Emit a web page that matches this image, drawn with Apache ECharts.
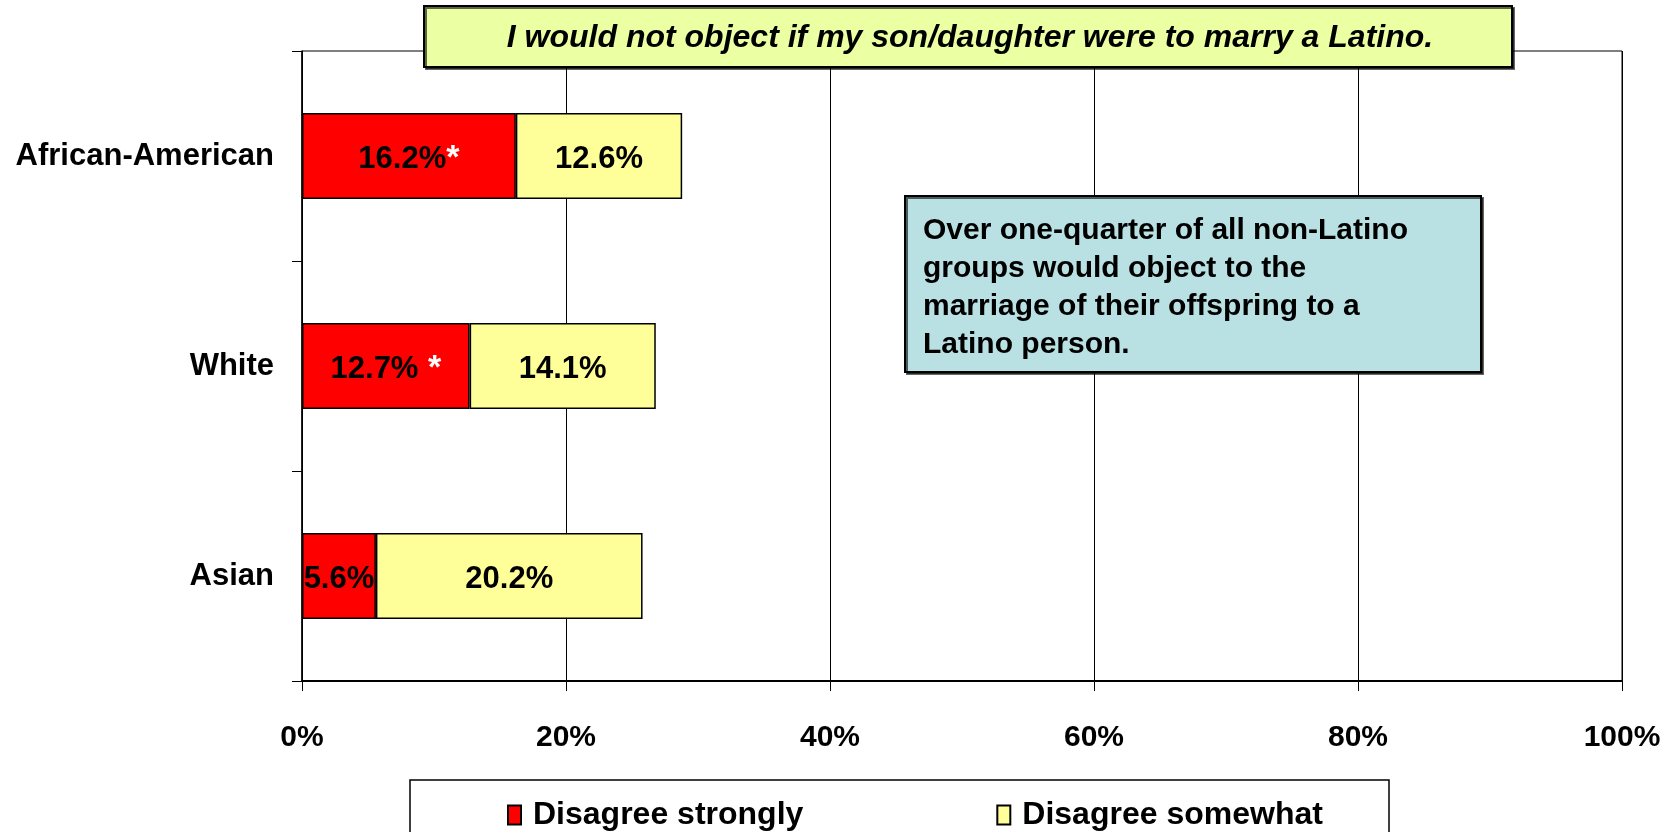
<!DOCTYPE html>
<html>
<head>
<meta charset="utf-8">
<style>
  html, body { margin: 0; padding: 0; background: #fff; }
  #main { width: 1679px; height: 832px; }
</style>
<script src="https://cdn.jsdelivr.net/npm/echarts@6/dist/echarts.min.js"></script>
</head>
<body>
<div id="main"></div>
<script>
// groups, top to bottom
var groups = ['African-American', 'White', 'Asian'];
var strongly = [16.2, 12.7, 5.6];
var somewhat = [12.6, 14.1, 20.2];
// marks drawn in white after the "strongly" labels
var starMarks = ['*', ' *', ''];
var seriesNames = ['Disagree strongly', 'Disagree somewhat'];
var xTicks = [0, 20, 40, 60, 80, 100];

var titleText = 'I would not object if my son/daughter were to marry a Latino.';
var noteText = 'Over one-quarter of all non-Latino\ngroups would object to the\nmarriage of their offspring to a\nLatino person.';

var font = 'Liberation Sans, Arial, sans-serif';

var myChart = echarts.init(document.getElementById('main'));

myChart.setOption({
  animation: false,
  textStyle: { fontFamily: font },
  grid: {
    left: 302, right: 57, top: 51, bottom: 151,
    show: true, borderColor: '#000', borderWidth: 1
  },
  legend: {
    data: seriesNames,
    icon: 'rect',
    left: 502, top: 794,
    itemWidth: 13, itemHeight: 19, itemGap: 193,
    selectedMode: false,
    textStyle: { fontSize: 32, fontWeight: 'bold', color: '#000', fontFamily: font, padding: [0, 0, 0, 7] }
  },
  xAxis: {
    type: 'value',
    min: xTicks[0], max: xTicks[xTicks.length - 1], interval: 20,
    axisLine: { show: true, lineStyle: { color: '#000', width: 2 } },
    axisTick: { show: true, length: 10, lineStyle: { color: '#000' } },
    splitLine: { show: true, lineStyle: { color: '#000', width: 1 } },
    axisLabel: {
      margin: 42, fontSize: 30, fontWeight: 'bold', color: '#000',
      formatter: '{value}%'
    }
  },
  yAxis: {
    type: 'category',
    data: groups,
    inverse: true,
    axisLine: { show: true, lineStyle: { color: '#000', width: 1.5 } },
    axisTick: { show: true, length: 10, lineStyle: { color: '#000' } },
    axisLabel: { margin: 28, fontSize: 31, fontWeight: 'bold', color: '#000', padding: [6, 0, 0, 0] }
  },
  series: [{
    name: seriesNames[0],
    type: 'bar',
    stack: 'all',
    barCategoryGap: '59%',
    data: strongly,
    itemStyle: { color: '#FF0000', borderColor: '#000', borderWidth: 1.5 },
    label: {
      show: true, position: 'inside', offset: [0, 3],
      formatter: function(p) {
        var s = starMarks[p.dataIndex];
        return '{v|' + p.value.toFixed(1) + '%}' + (s ? '{s|' + s + '}' : '');
      },
      rich: {
        v: { fontSize: 31, fontWeight: 'bold', color: '#000', fontFamily: font },
        s: { fontSize: 34, fontWeight: 'bold', color: '#fff', fontFamily: font }
      }
    }
  }, {
    name: seriesNames[1],
    type: 'bar',
    stack: 'all',
    data: somewhat,
    itemStyle: { color: '#FFFF99', borderColor: '#000', borderWidth: 1.5 },
    label: {
      show: true, position: 'inside', offset: [0, 3],
      fontSize: 31, fontWeight: 'bold', color: '#000',
      formatter: function(p) { return p.value.toFixed(1) + '%'; }
    }
  }],
  graphic: [{
    type: 'rect', z: 10,
    shape: { x: 424, y: 6, width: 1088, height: 61 },
    style: { fill: '#EBFFA3', stroke: '#000', lineWidth: 2,
      shadowColor: 'rgba(0,0,0,0.6)', shadowOffsetX: 2, shadowOffsetY: 2 }
  }, {
    type: 'text', z: 11,
    x: 970, y: 38,
    style: { text: titleText, font: 'italic bold 32px ' + font, fill: '#000',
      align: 'center', verticalAlign: 'middle' }
  }, {
    type: 'rect', z: 10,
    shape: { x: 905, y: 196, width: 576, height: 176 },
    style: { fill: '#B9E0E3', stroke: '#000', lineWidth: 2,
      shadowColor: 'rgba(0,0,0,0.6)', shadowOffsetX: 2, shadowOffsetY: 2 }
  }, {
    type: 'text', z: 11,
    x: 923, y: 212,
    style: { text: noteText, font: 'bold 30px ' + font, fill: '#000', lineHeight: 38 }
  }, {
    type: 'rect', z: 0,
    shape: { x: 410, y: 780, width: 979, height: 70 },
    style: { fill: '#fff', stroke: '#000', lineWidth: 1.5 }
  }]
});
</script>
</body>
</html>
